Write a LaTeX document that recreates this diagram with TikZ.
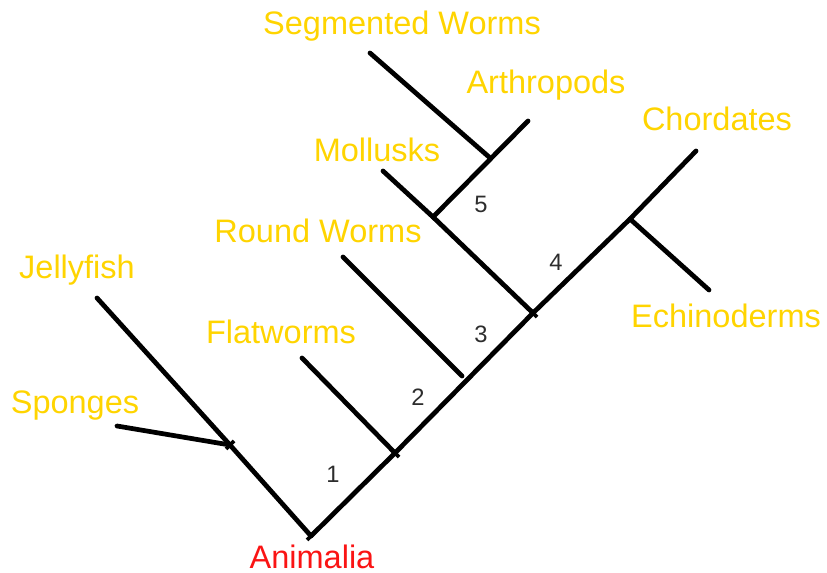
\documentclass[tikz,border=0pt]{standalone}
\usepackage{fontspec}
\setmainfont{Liberation Sans}
\definecolor{taxon}{RGB}{255,212,0}
\definecolor{rootred}{RGB}{250,20,20}
\definecolor{numgray}{RGB}{45,45,45}
\begin{document}
\begin{tikzpicture}[x=0.02cm,y=-0.02cm,
  branch/.style={line width=2.7pt,line cap=round,black},
  tick/.style={line width=2.2pt,black},
  taxlabel/.style={font=\fontsize{18.5pt}{20pt}\selectfont,text=taxon,inner sep=0pt},
  rootlabel/.style={font=\fontsize{18.5pt}{20pt}\selectfont,text=rootred,inner sep=0pt},
  numlabel/.style={font=\fontsize{13.5pt}{15pt}\selectfont,text=numgray,inner sep=0pt}]
\useasboundingbox (0,0) rectangle (827,573);
% junctions and tips
\coordinate (root) at (311,536);
\coordinate (jS) at (230,445);
\coordinate (jelly) at (97,298);
\coordinate (spong) at (117,426);
\coordinate (j2) at (395,453);
\coordinate (flat) at (302,358);
\coordinate (round) at (343,257);
\coordinate (roundend) at (462,376);
\coordinate (j4) at (533,313);
\coordinate (j5) at (433,217);
\coordinate (moll) at (383,171);
\coordinate (jA) at (489,157);
\coordinate (seg) at (370,53);
\coordinate (arth) at (528,121);
\coordinate (jC) at (630,219);
\coordinate (chord) at (696,151);
\coordinate (echin) at (709,290);
% branches
\draw[branch] (root) -- (jS) -- (jelly);
\draw[branch] (spong) -- (jS);
\draw[branch] (root) -- (j2) -- (j4) -- (jC) -- (chord);
\draw[branch] (flat) -- (j2);
\draw[branch] (round) -- (roundend);
\draw[branch] (moll) -- (j5) -- (j4);
\draw[branch] (j5) -- (arth);
\draw[branch] (seg) -- (jA);
\draw[branch] (jC) -- (echin);
% small ticks at junctions
\draw[tick] ([shift={(-4,4)}]jS) -- ([shift={(4,-4)}]jS);
\draw[tick] ([shift={(-4,4)}]root) -- ([shift={(4,-4)}]root);
\draw[tick] ([shift={(-4,-4)}]j2) -- ([shift={(4,4)}]j2);
\draw[tick] ([shift={(-4,-4)}]j4) -- ([shift={(4,4)}]j4);
\draw[tick] ([shift={(-4,-4)}]j5) -- ([shift={(4,4)}]j5);
% labels
\node[taxlabel] (tJelly) at (77,270) {Jellyfish};
\node[taxlabel] (tSpong) at (75,406) {Sponges};
\node[taxlabel] (tFlat) at (281,332) {Flatworms};
\node[taxlabel] (tRound) at (318,231) {Round Worms};
\node[taxlabel] (tMoll) at (377,150) {Mollusks};
\node[taxlabel] (tSeg) at (402,26) {Segmented Worms};
\node[taxlabel] (tArth) at (546,85) {Arthropods};
\node[taxlabel] (tChord) at (717,119) {Chordates};
\node[taxlabel] (tEchin) at (726,316) {Echinoderms};
\node[rootlabel] (tAnim) at (312,557) {Animalia};
\node[numlabel] (n1) at (333,474) {1};
\node[numlabel] (n2) at (418,397) {2};
\node[numlabel] (n3) at (481,334) {3};
\node[numlabel] (n4) at (556,262) {4};
\node[numlabel] (n5) at (481,204) {5};
\end{tikzpicture}
\end{document}
